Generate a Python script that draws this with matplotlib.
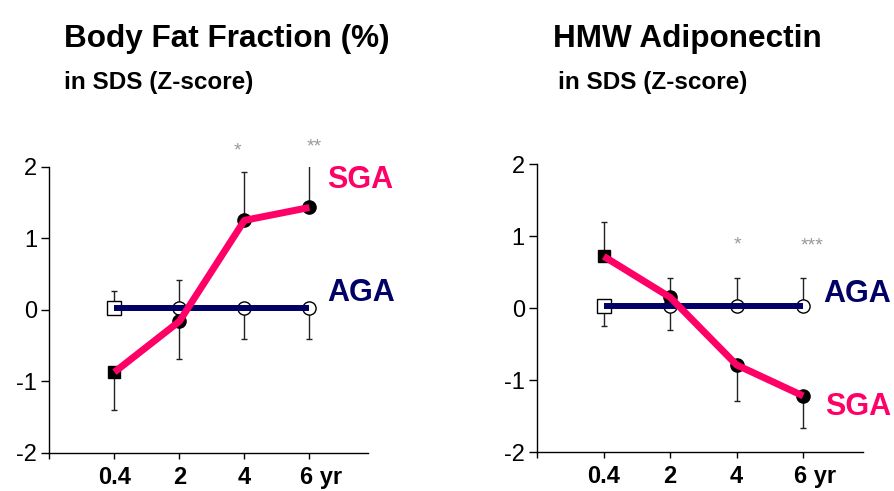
import matplotlib.pyplot as plt
import matplotlib.transforms as mtransforms
import numpy as np

plt.rcParams['font.family'] = ['Liberation Sans', 'DejaVu Sans']

# follow-up ages (categorical positions 1..4)
ages = ["0.4", "2", "4", "6 yr"]
pos = np.arange(1, len(ages) + 1)

# Body fat fraction, SDS
fat_sga = [-0.87, -0.16, 1.25, 1.43]
fat_sga_lo = [0.53, 0.52, 0.0, 0.0]
fat_sga_hi = [0.0, 0.0, 0.68, 0.63]
fat_aga = [0.02, 0.02, 0.02, 0.02]
fat_aga_lo = [0.0, 0.0, 0.43, 0.43]
fat_aga_hi = [0.25, 0.40, 0.0, 0.0]
fat_stars = ["", "", "*", "**"]

# HMW adiponectin, SDS
adipo_sga = [0.72, 0.15, -0.79, -1.22]
adipo_sga_lo = [0.0, 0.0, 0.50, 0.45]
adipo_sga_hi = [0.48, 0.27, 0.0, 0.0]
adipo_aga = [0.03, 0.03, 0.03, 0.03]
adipo_aga_lo = [0.28, 0.33, 0.0, 0.0]
adipo_aga_hi = [0.0, 0.0, 0.39, 0.39]
adipo_stars = ["", "", "*", "***"]

PINK = "#FF0066"
NAVY = "#000066"
GREY = "#999999"

fig = plt.figure(figsize=(8.95, 4.91), dpi=100)


def panel(rect, sga, sga_lo, sga_hi, aga, aga_lo, aga_hi, stars, star_xy,
          sga_lab, aga_lab):
    ax = fig.add_axes(rect)
    ax.errorbar(pos, sga, yerr=[sga_lo, sga_hi], fmt="none", ecolor="#222222",
                elinewidth=1, capsize=2.5, capthick=1, zorder=1)
    ax.errorbar(pos, aga, yerr=[aga_lo, aga_hi], fmt="none", ecolor="#222222",
                elinewidth=1, capsize=2.5, capthick=1, zorder=1)
    # open markers for AGA, filled for SGA; first visit drawn as a square
    ax.plot(pos[:1], aga[:1], "s", ms=10.5, mfc="white", mec="black", mew=1, zorder=2)
    ax.plot(pos[1:], aga[1:], "o", ms=9.5, mfc="white", mec="black", mew=1, zorder=2)
    ax.plot(pos[:1], sga[:1], "s", ms=8.5, color="black", zorder=2)
    ax.plot(pos[1:], sga[1:], "o", ms=9.5, color="black", zorder=2)
    ax.plot(pos, aga, color=NAVY, lw=4.3, solid_capstyle="butt", zorder=3)
    ax.plot(pos, sga, color=PINK, lw=5, solid_capstyle="butt", zorder=4)
    for x, s, (dx, y) in zip(pos, stars, star_xy):
        if s:
            ax.text(x + dx, y, s, color=GREY, fontsize=14,
                    ha="center", va="center")
    ax.text(*sga_lab, "SGA", color=PINK, fontsize=22, fontweight="bold", va="center")
    ax.text(*aga_lab, "AGA", color=NAVY, fontsize=22, fontweight="bold", va="center")

    ax.set_xlim(0, 4.9)
    ax.set_ylim(-2, 2)
    ax.set_xticks(np.arange(0, 5))
    ax.set_xticklabels([""] + ages, fontsize=17, fontweight="bold")
    ax.set_yticks([-2, -1, 0, 1, 2])
    ax.set_yticklabels(["-2", "-1", "0", "1", "2"], fontsize=17)
    ax.tick_params(axis="y", length=6, width=1, pad=3)
    ax.tick_params(axis="x", length=4.5, width=1, pad=5)
    for side in ("top", "right"):
        ax.spines[side].set_visible(False)
    for side in ("left", "bottom"):
        ax.spines[side].set_linewidth(1)
    # keep the "6" centred on its tick, with the unit trailing to the right
    last = ax.get_xticklabels()[-1]
    last.set_horizontalalignment("left")
    last.set_transform(last.get_transform() +
                       mtransforms.ScaledTranslation(-6.5 / 72, 0, fig.dpi_scale_trans))
    return ax


ax1 = panel([0.0553, 0.0774, 0.3557, 0.5831], fat_sga, fat_sga_lo, fat_sga_hi,
            fat_aga, fat_aga_lo, fat_aga_hi, fat_stars,
            [(0, 0), (0, 0), (-0.11, 2.22), (0.08, 2.27)],
            (4.27, 1.81), (4.27, 0.23))
ax2 = panel([0.6003, 0.0794, 0.3639, 0.5860], adipo_sga, adipo_sga_lo, adipo_sga_hi,
            adipo_aga, adipo_aga_lo, adipo_aga_hi, adipo_stars,
            [(0, 0), (0, 0), (0.01, 0.88), (0.13, 0.86)],
            (4.33, -1.37), (4.30, 0.2))

fig.text(0.0715, 0.905, "Body Fat Fraction (%)", fontsize=22.7, fontweight="bold")
fig.text(0.0715, 0.819, "in SDS (Z-score)", fontsize=17.5, fontweight="bold")
fig.text(0.618, 0.905, "HMW Adiponectin", fontsize=22.7, fontweight="bold")
fig.text(0.6235, 0.819, "in SDS (Z-score)", fontsize=17.5, fontweight="bold")

fig.savefig("out.png", dpi=100)
